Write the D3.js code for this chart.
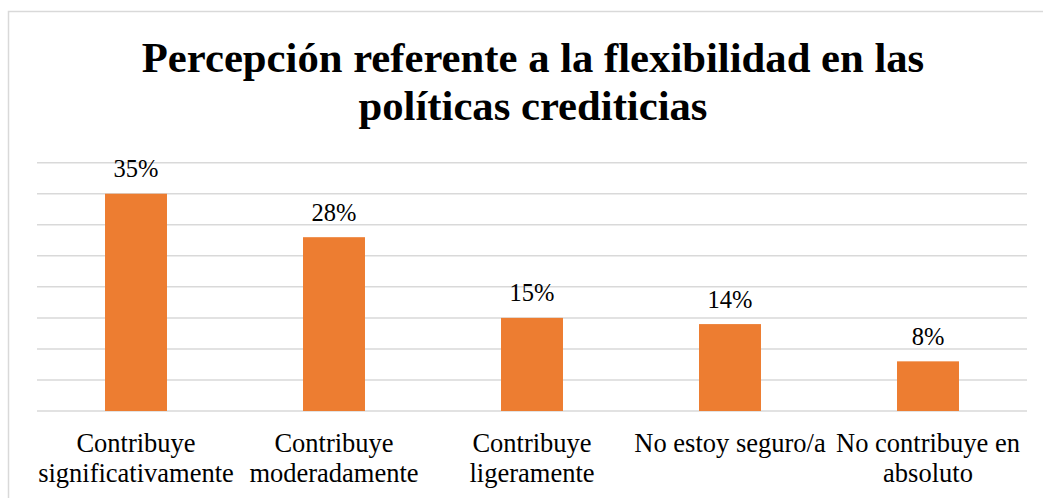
<!DOCTYPE html>
<html>
<head>
<meta charset="utf-8">
<script src="https://cdn.jsdelivr.net/npm/d3@7"></script>
<style>
  html, body { margin: 0; padding: 0; background: #fff; }
  svg { display: block; }
  svg text { font-family: "Liberation Serif", "Times New Roman", serif; fill: #000; }
</style>
</head>
<body>
<svg id="chart" width="1043" height="498"></svg>
<script>
// Chart data
const categories = [
  ["Contribuye", "significativamente"],
  ["Contribuye", "moderadamente"],
  ["Contribuye", "ligeramente"],
  ["No estoy seguro/a"],
  ["No contribuye en", "absoluto"]
];
const values = [35, 28, 15, 14, 8];
const gridTicks = [0, 5, 10, 15, 20, 25, 30, 35, 40];
const titleLines = ["Percepción referente a la flexibilidad en las", "políticas crediticias"];

const svg = d3.select("#chart");

// outer chart frame
svg.append("rect")
  .attr("x", 8.5).attr("y", 11.5)
  .attr("width", 1060).attr("height", 520)
  .attr("fill", "#fff")
  .attr("stroke", "#d9d9d9").attr("stroke-width", 1.5);

const plot = { left: 37, right: 1027, top: 162.7, bottom: 411 };

const x = d3.scaleBand()
  .domain(d3.range(categories.length))
  .range([plot.left, plot.right])
  .paddingInner(0.687)
  .paddingOuter(0.3435);

const y = d3.scaleLinear()
  .domain([0, 40])
  .range([plot.bottom, plot.top]);

// horizontal gridlines
svg.append("g")
  .selectAll("line")
  .data(gridTicks)
  .join("line")
  .attr("x1", plot.left).attr("x2", plot.right)
  .attr("y1", d => y(d)).attr("y2", d => y(d))
  .attr("stroke", "#d9d9d9").attr("stroke-width", 1.5);

// bars
svg.append("g")
  .selectAll("rect")
  .data(values)
  .join("rect")
  .attr("x", (d, i) => x(i))
  .attr("y", d => y(d))
  .attr("width", x.bandwidth())
  .attr("height", d => y(0) - y(d))
  .attr("fill", "#ed7d31");

// value labels
svg.append("g")
  .selectAll("text")
  .data(values)
  .join("text")
  .attr("x", (d, i) => x(i) + x.bandwidth() / 2)
  .attr("y", d => y(d) - 16.5)
  .attr("text-anchor", "middle")
  .style("font-size", "24.5px")
  .text(d => d + "%");

// category labels
const catText = svg.append("g")
  .selectAll("text")
  .data(categories)
  .join("text")
  .attr("x", (d, i) => x(i) + x.bandwidth() / 2)
  .attr("y", 452)
  .attr("text-anchor", "middle")
  .style("font-size", "26.5px");
catText.selectAll("tspan")
  .data(d => d)
  .join("tspan")
  .attr("x", function () { return d3.select(this.parentNode).attr("x"); })
  .attr("dy", (d, i) => i === 0 ? 0 : 30)
  .text(d => d);

// title
svg.append("g")
  .selectAll("text")
  .data(titleLines)
  .join("text")
  .attr("x", 533)
  .attr("y", (d, i) => 72 + i * 48)
  .attr("text-anchor", "middle")
  .style("font-weight", "bold")
  .style("font-size", "42.7px")
  .text(d => d);
</script>
</body>
</html>
